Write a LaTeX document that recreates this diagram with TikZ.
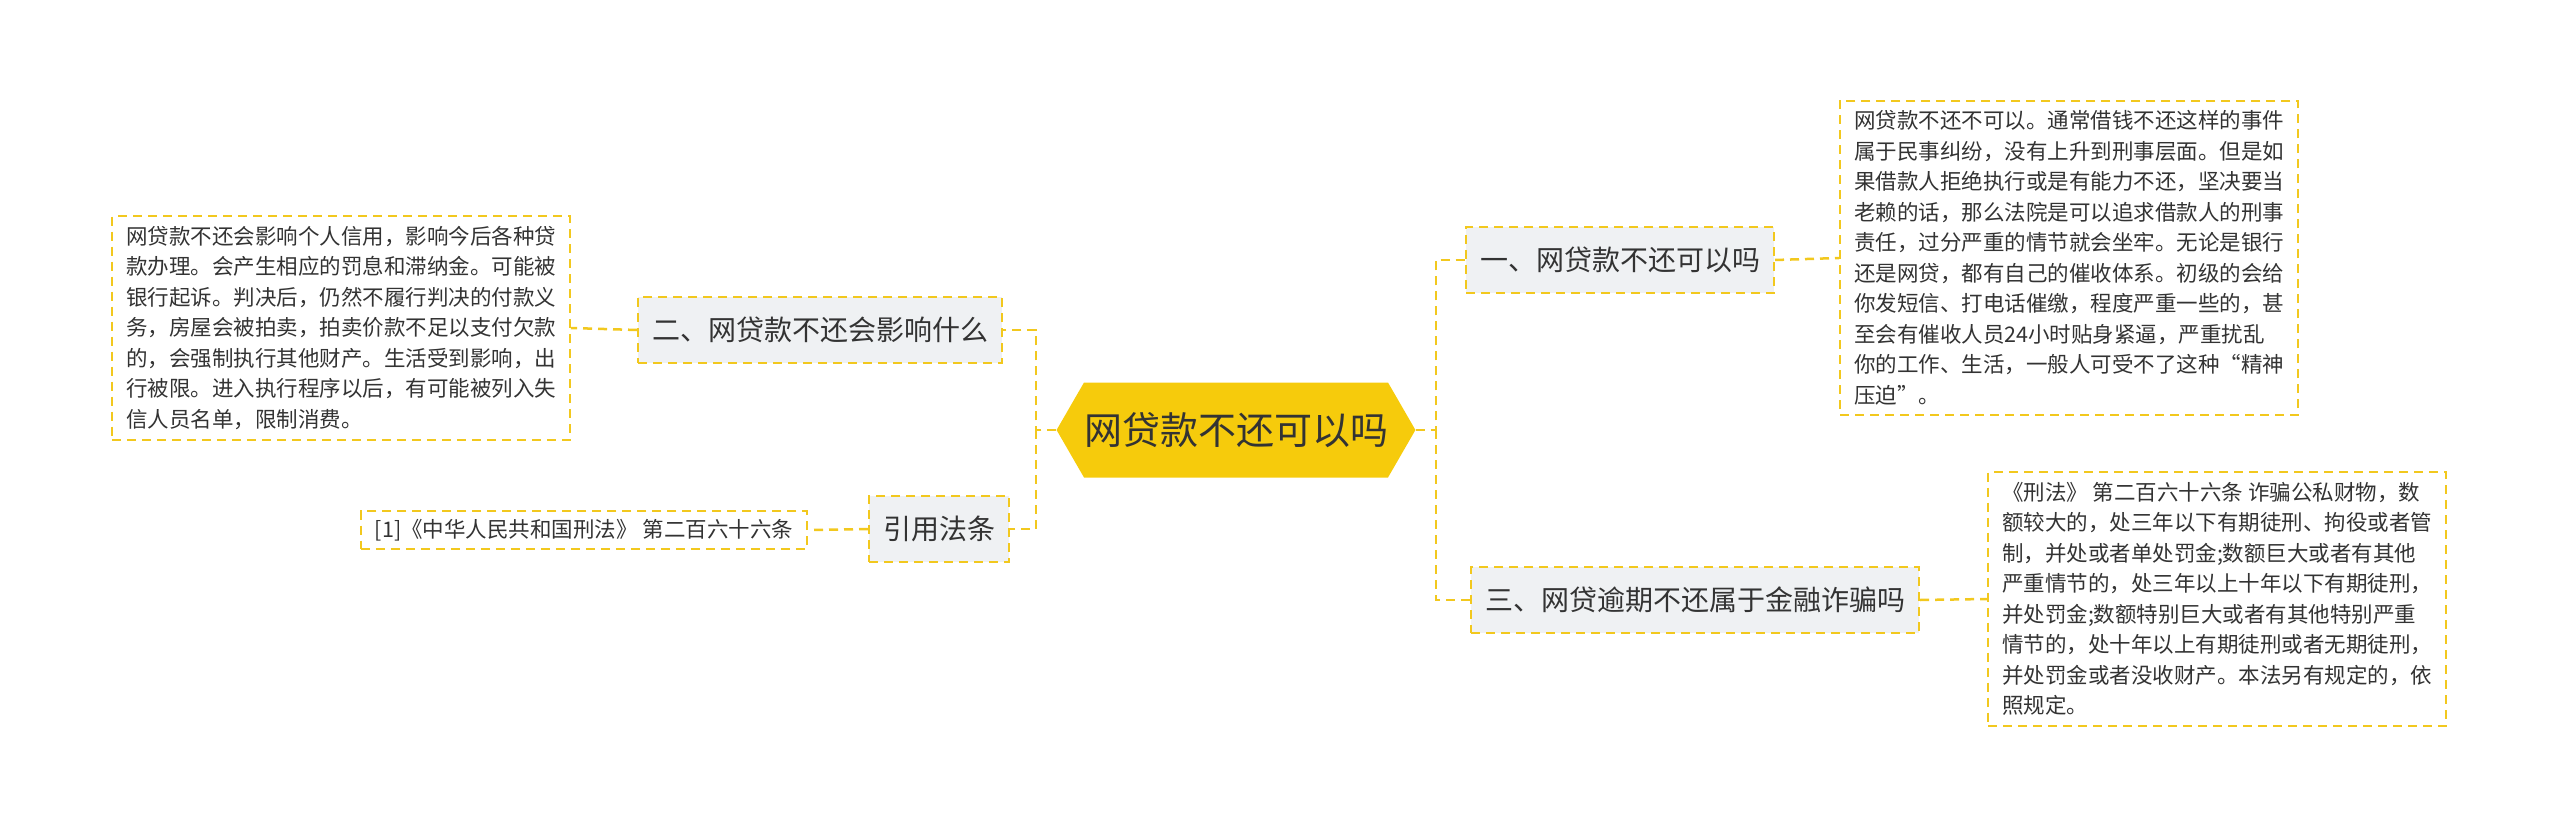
\documentclass[tikz,border=0pt]{standalone}
\usepackage{fontspec}
\setmainfont{Noto Sans CJK SC}
\usetikzlibrary{shapes.symbols}
\definecolor{gold}{HTML}{F6CB0C}
\definecolor{dashy}{HTML}{F2C81E}
\definecolor{paleg}{HTML}{EFF1F3}
\definecolor{ink}{HTML}{333333}
\tikzset{
  topic/.style={fill=paleg, draw=dashy, dashed, dash pattern=on 9pt off 6pt, line width=2pt, text=ink,
    font=\fontsize{28}{32}\selectfont, inner xsep=14pt, inner ysep=0pt, minimum height=66pt},
  leaf/.style={draw=dashy, dash pattern=on 9pt off 6pt, line width=2pt, text=ink, align=left,
    font=\fontsize{21.5}{30.5}\selectfont, inner xsep=14pt, inner ysep=10pt},
  link/.style={draw=dashy, dash pattern=on 9pt off 6pt, line width=2.5pt}
}
\begin{document}
\begin{tikzpicture}[x=1pt, y=-1pt]
            \useasboundingbox (0,0) rectangle (2560,829);
            \node[shape=signal, signal to=east and west, signal pointer angle=120, fill=gold, text=ink,
                  minimum width=356pt, minimum height=95pt, inner sep=0pt,
                  font=\fontsize{38}{40}\selectfont] (root) at (1236,430) {网贷款不还可以吗};
            \node[topic] (owe) at (1620,260) {一、网贷款不还可以吗};
            \node[topic] (fraud) at (1695,600) {三、网贷逾期不还属于金融诈骗吗};
            \node[topic] (effect) at (820,330) {二、网贷款不还会影响什么};
            \node[topic] (law) at (939,529) {引用法条};
            \node[leaf] (oweTxt) at (2069,258) {网贷款不还不可以。通常借钱不还这样的事件\\属于民事纠纷，没有上升到刑事层面。但是如\\果借款人拒绝执行或是有能力不还，坚决要当\\老赖的话，那么法院是可以追求借款人的刑事\\责任，过分严重的情节就会坐牢。无论是银行\\还是网贷，都有自己的催收体系。初级的会给\\你发短信、打电话催缴，程度严重一些的，甚\\至会有催收人员24小时贴身紧逼，严重扰乱\\你的工作、生活，一般人可受不了这种“精神\\压迫”。};
            \node[leaf] (fraudTxt) at (2217,599) {《刑法》 第二百六十六条 诈骗公私财物，数\\额较大的，处三年以下有期徒刑、拘役或者管\\制，并处或者单处罚金;数额巨大或者有其他\\严重情节的，处三年以上十年以下有期徒刑，\\并处罚金;数额特别巨大或者有其他特别严重\\情节的，处十年以上有期徒刑或者无期徒刑，\\并处罚金或者没收财产。本法另有规定的，依\\照规定。};
            \node[leaf] (effectTxt) at (341,328) {网贷款不还会影响个人信用，影响今后各种贷\\款办理。会产生相应的罚息和滞纳金。可能被\\银行起诉。判决后，仍然不履行判决的付款义\\务，房屋会被拍卖，拍卖价款不足以支付欠款\\的，会强制执行其他财产。生活受到影响，出\\行被限。进入执行程序以后，有可能被列入失\\信人员名单，限制消费。};
            \node[leaf, inner ysep=8pt] (lawTxt) at (584,530) {[1]《中华人民共和国刑法》 第二百六十六条};
            % connectors
            \coordinate (rj) at (1436,430);
            \coordinate (lj) at (1036,430);
            \draw[link] (root.east) -- (rj) |- (owe.west);
            \draw[link] (rj) |- (fraud.west);
            \draw[link] (root.west) -- (lj) |- (effect.east);
            \draw[link] (lj) |- (law.east);
            \draw[link] (owe.east) -- (oweTxt.west);
            \draw[link] (fraud.east) -- (fraudTxt.west);
            \draw[link] (effect.west) -- (effectTxt.east);
            \draw[link] (law.west) -- (lawTxt.east);
        \end{tikzpicture}
\end{document}
